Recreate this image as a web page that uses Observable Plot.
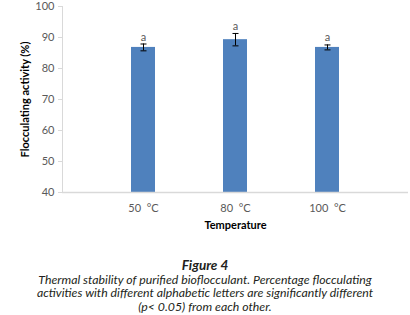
<!DOCTYPE html>
<html><head><meta charset="utf-8">
<script src="https://cdn.jsdelivr.net/npm/d3@7"></script>
<script src="https://cdn.jsdelivr.net/npm/@observablehq/plot@0.6"></script>
<style>
body{margin:0;background:#fff;width:410px;height:315px;overflow:hidden;position:relative;}
#chart{position:absolute;left:0;top:0;}
#cap{position:absolute;left:0;top:259px;width:410px;text-align:center;font-family:Lato,"Open Sans",sans-serif;font-style:italic;font-size:12.3px;line-height:13.6px;color:#231f20;}
#cap b{font-size:13.5px;}
</style></head>
<body>
<div id="chart"></div>
<div id="cap"><b>Figure 4</b><br>Thermal stability of purified bioflocculant. Percentage flocculating<br>activities with different alphabetic letters are significantly different<br>(p&lt; 0.05) from each other.</div>
<script>
const temps = ["50  °C", "80  °C", "100  °C"];
const activity = [86.8, 89.3, 86.8];
const errors = [1.1, 2.0, 0.8];
const letters = ["a", "a", "a"];
const yTicks = [40, 50, 60, 70, 80, 90, 100];

const data = temps.map((t, i) => ({t, v: activity[i], e: errors[i], l: letters[i]}));
const font = "Lato, 'Open Sans', sans-serif";
const capSymbol = {draw(ctx) { ctx.moveTo(-3, 0); ctx.lineTo(3, 0); }};

const chart = Plot.plot({
  width: 410,
  height: 237,
  marginLeft: 62,
  marginRight: 2,
  marginTop: 6,
  marginBottom: 45,
  style: {fontFamily: font, fontSize: "11px", color: "#595959", background: "transparent"},
  x: {domain: temps, padding: 0.74, label: null},
  y: {domain: [40, 100], clamp: true, label: null},
  marks: [
    Plot.barY(data, {x: "t", y: "v", fill: "#4f81bd"}),
    Plot.ruleX(data, {x: "t", y1: d => d.v - d.e, y2: d => d.v + d.e, stroke: "#000", strokeWidth: 1}),
    Plot.dot(data, {x: "t", y: d => d.v - d.e, symbol: capSymbol, stroke: "#000", fill: "none", strokeWidth: 1}),
    Plot.dot(data, {x: "t", y: d => d.v + d.e, symbol: capSymbol, stroke: "#000", fill: "none", strokeWidth: 1}),
    Plot.text(data, {x: "t", y: d => d.v + d.e, text: "l", dy: -7, fill: "#595959", fontSize: 11}),
    Plot.axisY({ticks: yTicks, tickSize: 4, tickPadding: 4, stroke: "#d9d9d9", fill: "#595959", label: null}),
    Plot.axisX({tickSize: 0, tickPadding: 12, fill: "#595959", label: null}),
    Plot.ruleX([0], {x: null, dx: -173, y1: 40, y2: 100, stroke: "#d9d9d9"}),
    Plot.ruleY([40], {stroke: "#d9d9d9", strokeWidth: 1.5}),
    Plot.text(["Flocculating activity (%)"], {frameAnchor: "left", textAnchor: "middle", dx: -37, rotate: -90, fontWeight: "bold", fill: "#000", fontSize: 11}),
    Plot.text(["Temperature"], {frameAnchor: "bottom", lineAnchor: "middle", dy: 33, fontWeight: "bold", fill: "#000", fontSize: 11})
  ]
});
document.getElementById("chart").appendChild(chart);
</script>
</body></html>
